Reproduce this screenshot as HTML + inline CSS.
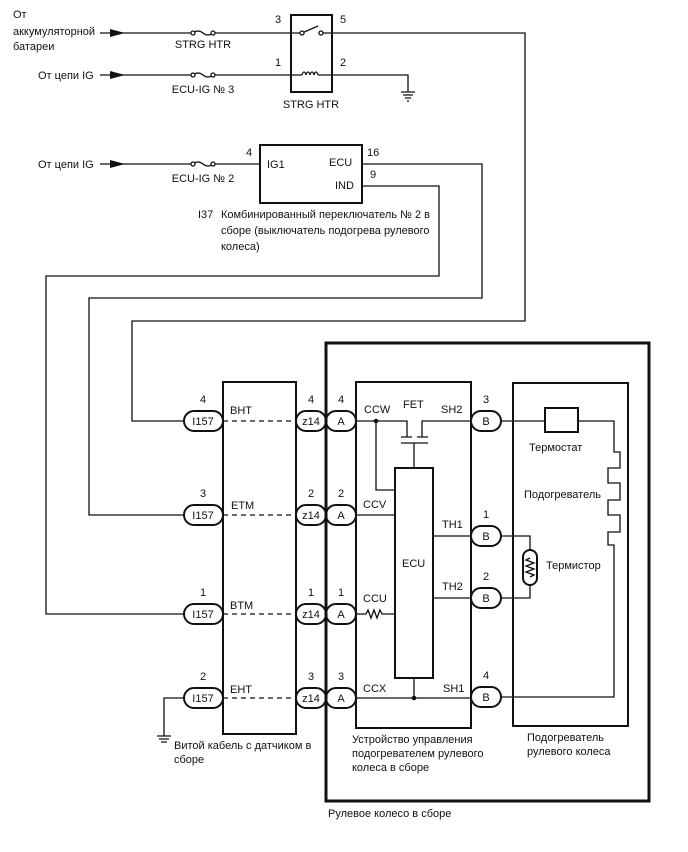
<!DOCTYPE html>
<html><head><meta charset="utf-8"><style>
html,body{margin:0;padding:0;background:#fff;}
svg{display:block;}
text{font-family:"Liberation Sans",sans-serif;font-size:11px;fill:#111;}
</style></head><body>
<svg width="688" height="852" viewBox="0 0 688 852" xmlns="http://www.w3.org/2000/svg">
<g fill="none" stroke="#111" stroke-width="1.3">
<path d="M100 33 H193 M213 33 H302 M302 33 L318 26 M321 33 H525 V321 H132 V421 H184"/>
<path d="M193 33 Q198 29 203 33 Q208 37 213 33"/>
<circle cx="193" cy="33" r="2" fill="#fff"/><circle cx="213" cy="33" r="2" fill="#fff"/>
<circle cx="302" cy="33" r="2" fill="#fff"/><circle cx="321" cy="33" r="2" fill="#fff"/>
<path d="M100 75 H193 M213 75 H302 M318 75 H408 V92"/>
<path d="M193 75 Q198 71 203 75 Q208 79 213 75"/>
<circle cx="193" cy="75" r="2" fill="#fff"/><circle cx="213" cy="75" r="2" fill="#fff"/>
<path d="M302 75 c1 -4 3 -4 4 0 c1 -4 3 -4 4 0 c1 -4 3 -4 4 0 c1 -4 3 -4 4 0"/>
<path d="M401 92 H415 M403 95 H413 M405 98 H411 M407 101 H409"/>
<path d="M100 164 H193 M213 164 H260"/>
<path d="M193 164 Q198 160 203 164 Q208 168 213 164"/>
<circle cx="193" cy="164" r="2" fill="#fff"/><circle cx="213" cy="164" r="2" fill="#fff"/>
<path d="M362 164 H482 V298 H89 V515 H184"/>
<path d="M362 186 H439 V276 H46 V614 H184"/>
<path d="M184 698 H164 V736 M157 736 H171 M159 739 H169 M161 742 H167"/>
<path d="M223 421 H296 M223 515 H296 M223 614 H296 M223 698 H296" stroke-dasharray="5,4"/>
<path d="M356 421 H407 V437 M401 437 H412 M422 437 V421 H471 M417 437 H428 M401 443 H428 M414 443 V468"/>
<path d="M376 421 V490 H395"/>
<path d="M356 515 H395"/>
<path d="M433 536 H471 M433 598 H471"/>
<path d="M356 614 H366 l2 -4 l3 8 l3 -8 l3 8 l3 -8 l2 4 H395"/>
<path d="M356 698 H471 M414 678 V698"/>
<path d="M501 421 H545 M578 421 H614 V452 H620 V468 H608 V483 H620 V500 H608 V515 H620 V532 H608 V545 H614 V697 H501"/>
<path d="M501 536 H530 V550 M530 585 V598 H501"/>
<path d="M530 558 l-4 2 l8 3 l-8 3 l8 3 l-8 3 l8 3 l-4 2"/>
</g>
<path d="M110 29 L125 33 L110 37 Z M110 71 L125 75 L110 79 Z M110 160 L125 164 L110 168 Z" fill="#111"/>
<circle cx="376" cy="421" r="2.3" fill="#111"/><circle cx="414" cy="698" r="2.3" fill="#111"/>
<g fill="none" stroke="#111" stroke-width="2">
<rect x="291" y="15" width="41" height="77"/>
<rect x="260" y="145" width="102" height="58"/>
<rect x="223" y="382" width="73" height="352"/>
<rect x="356" y="382" width="115" height="346"/>
<rect x="395" y="468" width="38" height="210"/>
<rect x="513" y="383" width="115" height="343"/>
<rect x="545" y="408" width="33" height="24"/>
<rect x="523" y="550" width="14" height="35" rx="7"/>
</g>
<rect x="326" y="343" width="323" height="458" fill="none" stroke="#111" stroke-width="3"/>
<g fill="#fff" stroke="#111" stroke-width="2">
<rect x="184" y="411" width="39" height="20" rx="10"/><rect x="184" y="505" width="39" height="20" rx="10"/><rect x="184" y="604" width="39" height="20" rx="10"/><rect x="184" y="688" width="39" height="20" rx="10"/>
<rect x="296" y="411" width="30" height="20" rx="10"/><rect x="296" y="505" width="30" height="20" rx="10"/><rect x="296" y="604" width="30" height="20" rx="10"/><rect x="296" y="688" width="30" height="20" rx="10"/>
<rect x="326" y="411" width="30" height="20" rx="10"/><rect x="326" y="505" width="30" height="20" rx="10"/><rect x="326" y="604" width="30" height="20" rx="10"/><rect x="326" y="688" width="30" height="20" rx="10"/>
<rect x="471" y="411" width="30" height="20" rx="10"/><rect x="471" y="526" width="30" height="20" rx="10"/><rect x="471" y="588" width="30" height="20" rx="10"/><rect x="471" y="687" width="30" height="20" rx="10"/>
</g>
<line x1="326" y1="343" x2="326" y2="801" stroke="#111" stroke-width="3"/>
<g>
<text x="13" y="18">От</text><text x="13" y="35">аккумуляторной</text><text x="13" y="50">батареи</text>
<text x="38" y="79">От цепи IG</text><text x="38" y="168">От цепи IG</text>
<text x="203" y="48" text-anchor="middle">STRG HTR</text>
<text x="203" y="93" text-anchor="middle">ECU-IG № 3</text>
<text x="203" y="182" text-anchor="middle">ECU-IG № 2</text>
<text x="311" y="108" text-anchor="middle">STRG HTR</text>
<text x="275" y="23">3</text><text x="340" y="23">5</text><text x="275" y="66">1</text><text x="340" y="66">2</text>
<text x="246" y="156">4</text><text x="267" y="168">IG1</text><text x="329" y="166">ECU</text><text x="335" y="189">IND</text>
<text x="367" y="156">16</text><text x="370" y="178">9</text>
<text x="198" y="218">I37</text><text x="221" y="218">Комбинированный переключатель № 2 в</text>
<text x="221" y="234">сборе (выключатель подогрева рулевого</text><text x="221" y="250">колеса)</text>
<g text-anchor="middle">
<text x="203" y="403">4</text><text x="203" y="497">3</text><text x="203" y="596">1</text><text x="203" y="680">2</text>
<text x="311" y="403">4</text><text x="311" y="497">2</text><text x="311" y="596">1</text><text x="311" y="680">3</text>
<text x="341" y="403">4</text><text x="341" y="497">2</text><text x="341" y="596">1</text><text x="341" y="680">3</text>
<text x="486" y="403">3</text><text x="486" y="518">1</text><text x="486" y="580">2</text><text x="486" y="679">4</text>
<text x="203" y="425">I157</text><text x="203" y="519">I157</text><text x="203" y="618">I157</text><text x="203" y="702">I157</text>
<text x="311" y="425">z14</text><text x="311" y="519">z14</text><text x="311" y="618">z14</text><text x="311" y="702">z14</text>
<text x="341" y="425">A</text><text x="341" y="519">A</text><text x="341" y="618">A</text><text x="341" y="702">A</text>
<text x="486" y="425">B</text><text x="486" y="540">B</text><text x="486" y="602">B</text><text x="486" y="701">B</text>
</g>
<text x="230" y="414">BHT</text><text x="231" y="509">ETM</text><text x="230" y="609">BTM</text><text x="230" y="693">EHT</text>
<text x="364" y="413">CCW</text><text x="403" y="408">FET</text><text x="441" y="413">SH2</text>
<text x="363" y="508">CCV</text><text x="442" y="528">TH1</text><text x="402" y="567">ECU</text><text x="442" y="590">TH2</text>
<text x="363" y="602">CCU</text><text x="363" y="692">CCX</text><text x="443" y="692">SH1</text>
<text x="529" y="451">Термостат</text><text x="524" y="498">Подогреватель</text><text x="546" y="569">Термистор</text>
<text x="527" y="741">Подогреватель</text><text x="527" y="755">рулевого колеса</text>
<text x="352" y="743">Устройство управления</text><text x="352" y="757">подогревателем рулевого</text><text x="352" y="771">колеса в сборе</text>
<text x="174" y="749">Витой кабель с датчиком в</text><text x="174" y="763">сборе</text>
<text x="328" y="817">Рулевое колесо в сборе</text>
</g>
</svg>
</body></html>
